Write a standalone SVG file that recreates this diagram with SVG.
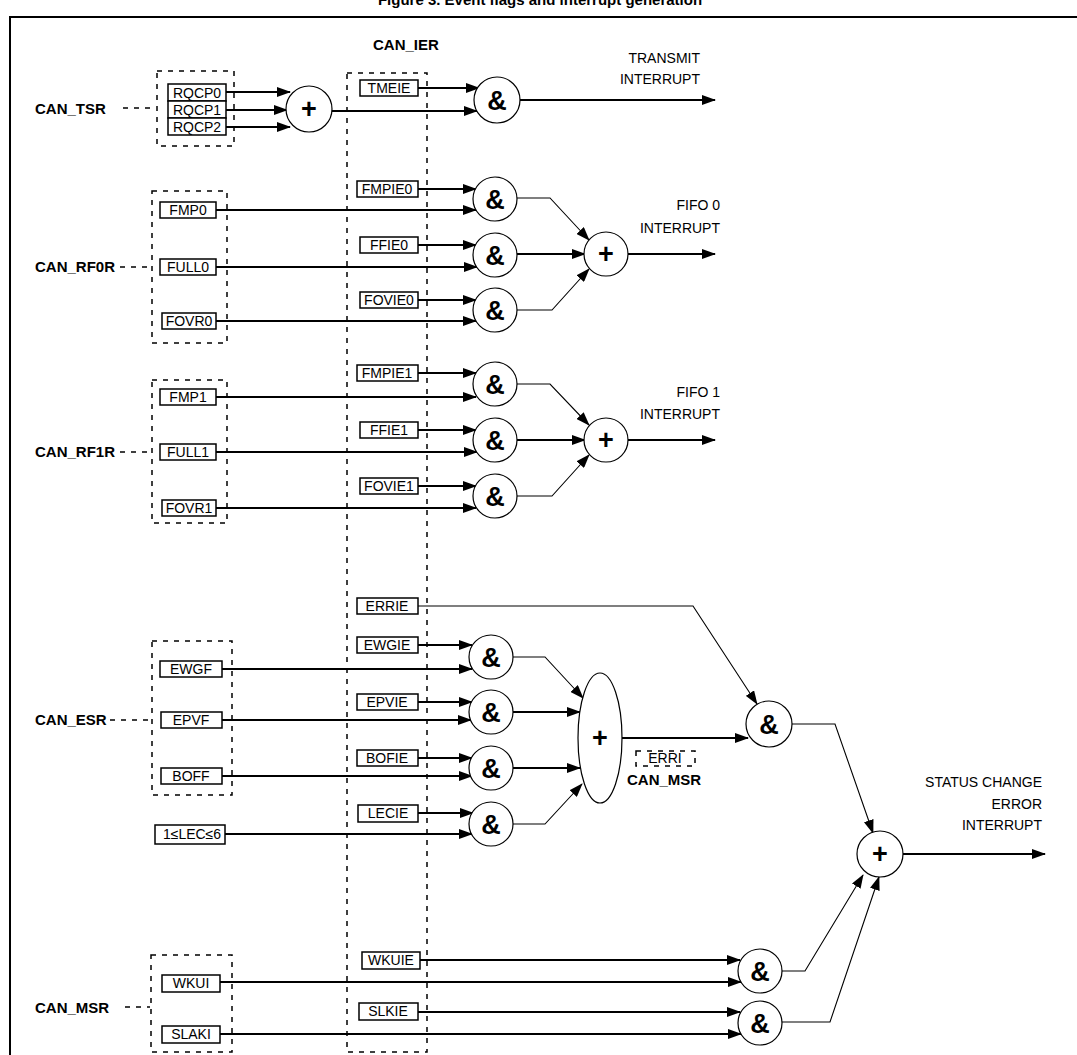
<svg xmlns="http://www.w3.org/2000/svg" width="1077" height="1055" viewBox="0 0 1077 1055">
<style>
.b{fill:#fff;stroke:#000;stroke-width:1.5}
.t{font-family:"Liberation Sans",Arial,sans-serif;font-size:14px;fill:#000}
.tb{font-family:"Liberation Sans",Arial,sans-serif;font-size:15px;font-weight:bold;fill:#000}
.g{fill:#fff;stroke:#000;stroke-width:1.2}
.gs{font-family:"Liberation Sans",Arial,sans-serif;font-size:27px;font-weight:bold;fill:#000;text-anchor:middle}
.d{fill:none;stroke:#000;stroke-width:1.5;stroke-dasharray:5,6}
.w{fill:none;stroke:#000;stroke-width:2;marker-end:url(#a)}
.n{fill:none;stroke:#000;stroke-width:1.1;marker-end:url(#a)}
</style>
<defs><marker id="a" markerUnits="userSpaceOnUse" markerWidth="14" markerHeight="10" refX="13" refY="5" orient="auto"><path d="M0,0 L14,5 L0,10 Z" fill="#000"/></marker></defs>
<rect width="1077" height="1055" fill="#fff"/>
<text x="540" y="5" class="tb" font-size="17" text-anchor="middle">Figure 3. Event flags and interrupt generation</text>
<rect x="10" y="17" width="1080" height="1050" fill="none" stroke="#000" stroke-width="2"/>
<g id="labels">
<text x="373" y="50" class="tb">CAN_IER</text>
<text x="35" y="114" class="tb">CAN_TSR</text>
<text x="35" y="272" class="tb">CAN_RF0R</text>
<text x="35" y="457" class="tb">CAN_RF1R</text>
<text x="35" y="725" class="tb">CAN_ESR</text>
<text x="35" y="1013" class="tb">CAN_MSR</text>
<text x="700" y="63" class="t" text-anchor="end">TRANSMIT</text>
<text x="700" y="84" class="t" text-anchor="end">INTERRUPT</text>
<text x="720" y="210" class="t" text-anchor="end">FIFO 0</text>
<text x="720" y="233" class="t" text-anchor="end">INTERRUPT</text>
<text x="720" y="397" class="t" text-anchor="end">FIFO 1</text>
<text x="720" y="419" class="t" text-anchor="end">INTERRUPT</text>
<text x="1042" y="787" class="t" text-anchor="end">STATUS CHANGE</text>
<text x="1042" y="809" class="t" text-anchor="end">ERROR</text>
<text x="1042" y="830" class="t" text-anchor="end">INTERRUPT</text>
<text x="627" y="785" class="tb">CAN_MSR</text>
</g>
<g id="registers">
<rect x="157" y="71" width="77" height="75" class="d"/>
<rect x="152" y="191" width="75" height="152" class="d"/>
<rect x="152" y="380" width="75" height="143" class="d"/>
<rect x="152" y="641" width="80" height="154" class="d"/>
<rect x="151" y="955" width="81" height="97" class="d"/>
<rect x="347" y="73" width="80" height="979" class="d"/>
<rect x="636" y="751" width="59" height="15" class="d"/>
<path d="M123,108H155M120,267H150M120,452H150M110,720H150M125,1007H150" class="d"/>
</g>
<g id="connectors">
<path d="M226,92H290" class="w"/><path d="M226,110H287" class="w"/><path d="M226,127H290" class="w"/>
<path d="M332,111H477" class="w"/><path d="M418,88H479" class="w"/><path d="M520,100H715" class="w"/>
<path d="M418,189H476" class="w"/><path d="M216,210H476" class="w"/>
<path d="M418,245H476" class="w"/><path d="M216,267H477" class="w"/>
<path d="M418,300H476" class="w"/><path d="M216,321H476" class="w"/>
<path d="M418,373H476" class="w"/><path d="M216,397H476" class="w"/>
<path d="M418,430H476" class="w"/><path d="M216,452H477" class="w"/>
<path d="M418,486H476" class="w"/><path d="M216,508H476" class="w"/>
<path d="M517,198H550L589,240" class="n"/><path d="M517,310H552L589,269" class="n"/>
<path d="M517,384H550L589,425" class="n"/><path d="M517,496H552L589,455" class="n"/>
<path d="M517,254H585" class="w"/><path d="M628,254H715" class="w"/>
<path d="M517,440H585" class="w"/><path d="M628,440H715" class="w"/>
<path d="M418,645H472" class="w"/><path d="M222,669H472" class="w"/>
<path d="M418,702H472" class="w"/><path d="M222,720H471" class="w"/>
<path d="M418,758H472" class="w"/><path d="M222,776H472" class="w"/>
<path d="M418,813H473" class="w"/><path d="M225,834H472" class="w"/>
<path d="M513,657H545L583,698" class="n"/><path d="M513,824H545L582,784" class="n"/>
<path d="M513,712H580" class="w"/><path d="M513,768H580" class="w"/><path d="M621,738H748" class="w"/>
<path d="M418,606H693L757,704" class="n"/>
<path d="M792,724H835L873,833" class="n"/>
<path d="M782,971H805L863,875" class="n"/>
<path d="M782,1022H830L879,877" class="n"/>
<path d="M903,854H1045" class="w"/>
<path d="M420,960H740" class="w"/><path d="M220,982H741" class="w"/>
<path d="M418,1012H740" class="w"/><path d="M220,1034H741" class="w"/>
</g>
<g id="boxes">
<g id="rqcp"><rect x="168" y="84" width="58" height="17" class="b"/><text x="197" y="98" class="t" text-anchor="middle">RQCP0</text>
<rect x="168" y="101" width="58" height="17" class="b"/><text x="197" y="115" class="t" text-anchor="middle">RQCP1</text>
<rect x="168" y="118" width="58" height="17" class="b"/><text x="197" y="132" class="t" text-anchor="middle">RQCP2</text></g>
<g id="tmeie"><rect x="360" y="80" width="58" height="16" class="b"/><text x="389" y="93" class="t" text-anchor="middle">TMEIE</text></g>
<g id="fmpie0"><rect x="357" y="181" width="61" height="16" class="b"/><text x="387" y="194" class="t" text-anchor="middle">FMPIE0</text></g>
<g id="fmp0"><rect x="160" y="202" width="56" height="16" class="b"/><text x="188" y="215" class="t" text-anchor="middle">FMP0</text></g>
<g id="ffie0"><rect x="360" y="237" width="58" height="16" class="b"/><text x="389" y="250" class="t" text-anchor="middle">FFIE0</text></g>
<g id="full0"><rect x="160" y="259" width="56" height="16" class="b"/><text x="188" y="272" class="t" text-anchor="middle">FULL0</text></g>
<g id="fovie0"><rect x="360" y="292" width="58" height="16" class="b"/><text x="389" y="305" class="t" text-anchor="middle">FOVIE0</text></g>
<g id="fovr0"><rect x="162" y="313" width="54" height="16" class="b"/><text x="189" y="326" class="t" text-anchor="middle">FOVR0</text></g>
<g id="fmpie1"><rect x="357" y="365" width="61" height="16" class="b"/><text x="387" y="378" class="t" text-anchor="middle">FMPIE1</text></g>
<g id="fmp1"><rect x="160" y="389" width="56" height="16" class="b"/><text x="188" y="402" class="t" text-anchor="middle">FMP1</text></g>
<g id="ffie1"><rect x="360" y="422" width="58" height="16" class="b"/><text x="389" y="435" class="t" text-anchor="middle">FFIE1</text></g>
<g id="full1"><rect x="160" y="444" width="56" height="16" class="b"/><text x="188" y="457" class="t" text-anchor="middle">FULL1</text></g>
<g id="fovie1"><rect x="360" y="478" width="58" height="16" class="b"/><text x="389" y="491" class="t" text-anchor="middle">FOVIE1</text></g>
<g id="fovr1"><rect x="162" y="500" width="54" height="16" class="b"/><text x="189" y="513" class="t" text-anchor="middle">FOVR1</text></g>
<g id="errie"><rect x="357" y="598" width="61" height="16" class="b"/><text x="387" y="611" class="t" text-anchor="middle">ERRIE</text></g>
<g id="ewgie"><rect x="357" y="637" width="61" height="16" class="b"/><text x="387" y="650" class="t" text-anchor="middle">EWGIE</text></g>
<g id="ewgf"><rect x="160" y="661" width="62" height="16" class="b"/><text x="191" y="674" class="t" text-anchor="middle">EWGF</text></g>
<g id="epvie"><rect x="357" y="694" width="61" height="16" class="b"/><text x="387" y="707" class="t" text-anchor="middle">EPVIE</text></g>
<g id="epvf"><rect x="161" y="712" width="61" height="16" class="b"/><text x="191" y="725" class="t" text-anchor="middle">EPVF</text></g>
<g id="bofie"><rect x="357" y="750" width="61" height="16" class="b"/><text x="387" y="763" class="t" text-anchor="middle">BOFIE</text></g>
<g id="boff"><rect x="161" y="768" width="61" height="16" class="b"/><text x="191" y="781" class="t" text-anchor="middle">BOFF</text></g>
<g id="lecie"><rect x="358" y="805" width="60" height="17" class="b"/><text x="388" y="818" class="t" text-anchor="middle">LECIE</text></g>
<g id="lec"><rect x="155" y="825" width="70" height="19" class="b"/><text x="192" y="839" class="t" text-anchor="middle">1≤LEC≤6</text></g>
<g id="erri"><text x="665" y="763" class="t" text-anchor="middle">ERRI</text></g>
<g id="wkuie"><rect x="362" y="952" width="58" height="17" class="b"/><text x="391" y="965" class="t" text-anchor="middle">WKUIE</text></g>
<g id="wkui"><rect x="162" y="975" width="58" height="17" class="b"/><text x="191" y="988" class="t" text-anchor="middle">WKUI</text></g>
<g id="slkie"><rect x="359" y="1003" width="59" height="17" class="b"/><text x="388" y="1016" class="t" text-anchor="middle">SLKIE</text></g>
<g id="slaki"><rect x="162" y="1026" width="58" height="17" class="b"/><text x="191" y="1039" class="t" text-anchor="middle">SLAKI</text></g>
</g>
<g id="gates">
<g id="or-tsr"><circle cx="309" cy="109" r="23" class="g"/><text x="309" y="118" class="gs">+</text></g>
<g id="and-tx"><circle cx="497" cy="100" r="23" class="g"/><text x="497" y="110" class="gs">&amp;</text></g>
<g id="and-f0a"><circle cx="495" cy="199" r="22" class="g"/><text x="495" y="209" class="gs">&amp;</text></g>
<g id="and-f0b"><circle cx="495" cy="255" r="22" class="g"/><text x="495" y="265" class="gs">&amp;</text></g>
<g id="and-f0c"><circle cx="495" cy="310" r="22" class="g"/><text x="495" y="320" class="gs">&amp;</text></g>
<g id="or-f0"><circle cx="606" cy="254" r="22" class="g"/><text x="606" y="263" class="gs">+</text></g>
<g id="and-f1a"><circle cx="495" cy="384" r="22" class="g"/><text x="495" y="394" class="gs">&amp;</text></g>
<g id="and-f1b"><circle cx="495" cy="440" r="22" class="g"/><text x="495" y="450" class="gs">&amp;</text></g>
<g id="and-f1c"><circle cx="495" cy="496" r="22" class="g"/><text x="495" y="506" class="gs">&amp;</text></g>
<g id="or-f1"><circle cx="606" cy="440" r="22" class="g"/><text x="606" y="449" class="gs">+</text></g>
<g id="and-e1"><circle cx="491" cy="657" r="22" class="g"/><text x="491" y="667" class="gs">&amp;</text></g>
<g id="and-e2"><circle cx="491" cy="712" r="22" class="g"/><text x="491" y="722" class="gs">&amp;</text></g>
<g id="and-e3"><circle cx="491" cy="768" r="22" class="g"/><text x="491" y="778" class="gs">&amp;</text></g>
<g id="and-e4"><circle cx="491" cy="824" r="22" class="g"/><text x="491" y="834" class="gs">&amp;</text></g>
<g id="or-e"><ellipse cx="600" cy="738" rx="22" ry="65" class="g"/><text x="600" y="747" class="gs">+</text></g>
<g id="and-err"><circle cx="769" cy="724" r="23" class="g"/><text x="769" y="734" class="gs">&amp;</text></g>
<g id="or-st"><circle cx="880" cy="854" r="23" class="g"/><text x="880" y="863" class="gs">+</text></g>
<g id="and-wk"><circle cx="760" cy="971" r="22" class="g"/><text x="760" y="981" class="gs">&amp;</text></g>
<g id="and-sl"><circle cx="760" cy="1023" r="22" class="g"/><text x="760" y="1033" class="gs">&amp;</text></g>
</g>
</svg>
